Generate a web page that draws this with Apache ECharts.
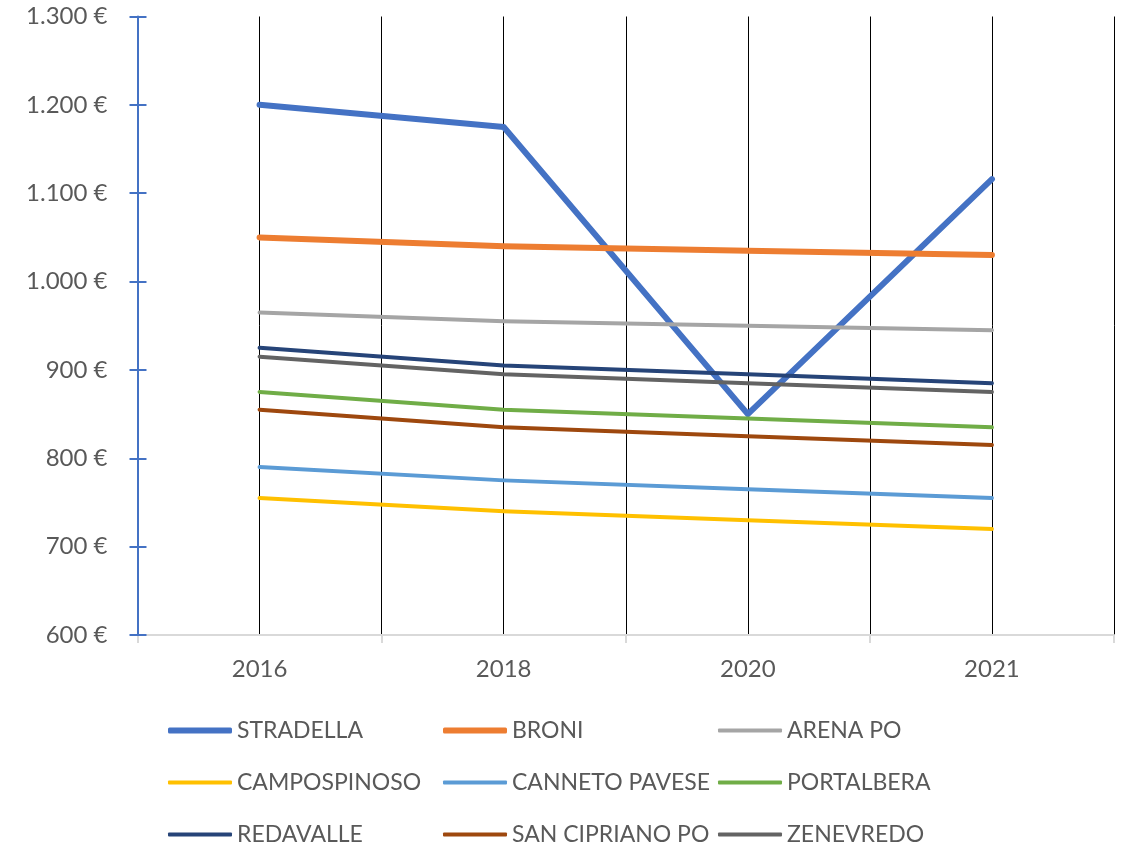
<!DOCTYPE html>
<html>
<head>
<meta charset="utf-8">
<script src="https://cdn.jsdelivr.net/npm/echarts@6/dist/echarts.min.js"></script>
<style>
  html, body { margin: 0; padding: 0; background: #fff; }
  #chart { width: 1130px; height: 844px; }
</style>
</head>
<body>
<div id="chart"></div>
<script>
// Years on the category axis
const years = ['2016', '2018', '2020', '2021'];

// Values per municipality (€)
const stradella    = [1200, 1175, 850, 1116];
const broni        = [1050, 1040, 1035, 1030];
const arenaPo      = [965, 955, 950, 945];
const campospinoso = [755, 740, 730, 720];
const cannetoPav   = [790, 775, 765, 755];
const portalbera   = [875, 855, 845, 835];
const redavalle    = [925, 905, 895, 885];
const sanCipriano  = [855, 835, 825, 815];
const zenevredo    = [915, 895, 885, 875];

// Value axis range
const yMin = 600, yMax = 1300, yStep = 100;

const seriesDefs = [
  { name: 'STRADELLA',        data: stradella,    color: '#4472C4', width: 6 },
  { name: 'BRONI',            data: broni,        color: '#ED7D31', width: 6 },
  { name: 'ARENA PO',         data: arenaPo,      color: '#A5A5A5', width: 4 },
  { name: 'CAMPOSPINOSO',     data: campospinoso, color: '#FFC000', width: 4 },
  { name: 'CANNETO PAVESE',   data: cannetoPav,   color: '#5B9BD5', width: 4 },
  { name: 'PORTALBERA',       data: portalbera,   color: '#70AD47', width: 4 },
  { name: 'REDAVALLE',        data: redavalle,    color: '#264478', width: 4 },
  { name: 'SAN CIPRIANO PO',  data: sanCipriano,  color: '#9E480E', width: 4 },
  { name: 'ZENEVREDO',        data: zenevredo,    color: '#636363', width: 4 }
];

// Half-year slots: their boundaries give the vertical grid lines
const halfSlots = years.flatMap(y => [y + '-a', y + '-b']);

const fmtEuro = v => (v >= 1000 ? Math.floor(v / 1000) + '.' + String(v % 1000).padStart(3, '0') : String(v)) + ' €';

const labelFont = { fontFamily: 'Lato, "Open Sans", sans-serif', color: '#595959' };

// Legend laid out as a 3 x 3 grid, one legend block per entry
const legendCols = [168, 443, 718];
const legendRows = [719, 771, 823];
const legends = seriesDefs.map((s, i) => ({
  left: legendCols[i % 3],
  top: legendRows[Math.floor(i / 3)],
  padding: 0,
  icon: 'roundRect',
  itemWidth: 64,
  itemHeight: s.width,
  itemGap: 0,
  selectedMode: false,
  itemStyle: { color: s.color, borderWidth: 0 },
  textStyle: { ...labelFont, fontSize: 23 },
  data: [s.name]
}));

const chart = echarts.init(document.getElementById('chart'), null, { renderer: 'canvas' });

chart.setOption({
  animation: false,
  backgroundColor: '#ffffff',
  grid: { left: 137.5, right: 16, top: 16.5, bottom: 209, containLabel: false },
  xAxis: [
    {
      type: 'category',
      data: years,
      boundaryGap: true,
      axisLine: { show: true, lineStyle: { color: '#D9D9D9', width: 2 } },
      axisTick: { show: true, length: 8, lineStyle: { color: '#D9D9D9', width: 2 } },
      axisLabel: { ...labelFont, fontSize: 24, margin: 22 },
      splitLine: { show: false },
      z: 3
    },
    {
      type: 'category',
      data: halfSlots,
      boundaryGap: true,
      position: 'bottom',
      axisLine: { show: false },
      axisTick: { show: false },
      axisLabel: { show: false },
      splitLine: { show: true, interval: 0, lineStyle: { color: '#000000', width: 1 } }
    }
  ],
  yAxis: [
    {
      type: 'value',
      min: yMin, max: yMax, interval: yStep,
      position: 'left',
      axisLine: { show: true, lineStyle: { color: '#4472C4', width: 2 } },
      axisTick: { show: true, length: 8, lineStyle: { color: '#4472C4', width: 2 } },
      axisLabel: { ...labelFont, fontSize: 24, margin: 30, formatter: fmtEuro },
      splitLine: { show: false },
      z: 4
    },
    {
      type: 'value',
      min: yMin, max: yMax, interval: yStep,
      position: 'left',
      offset: 0,
      axisLine: { show: false },
      axisTick: { show: true, inside: true, length: 9, lineStyle: { color: '#4472C4', width: 2 } },
      axisLabel: { show: false },
      splitLine: { show: false },
      z: 4
    }
  ],
  legend: legends,
  series: seriesDefs.map(s => ({
    name: s.name,
    type: 'line',
    xAxisIndex: 0,
    yAxisIndex: 0,
    data: s.data,
    symbol: 'none',
    lineStyle: { color: s.color, width: s.width, cap: 'round', join: 'round' },
    itemStyle: { color: s.color },
    z: 5
  }))
});
</script>
</body>
</html>
